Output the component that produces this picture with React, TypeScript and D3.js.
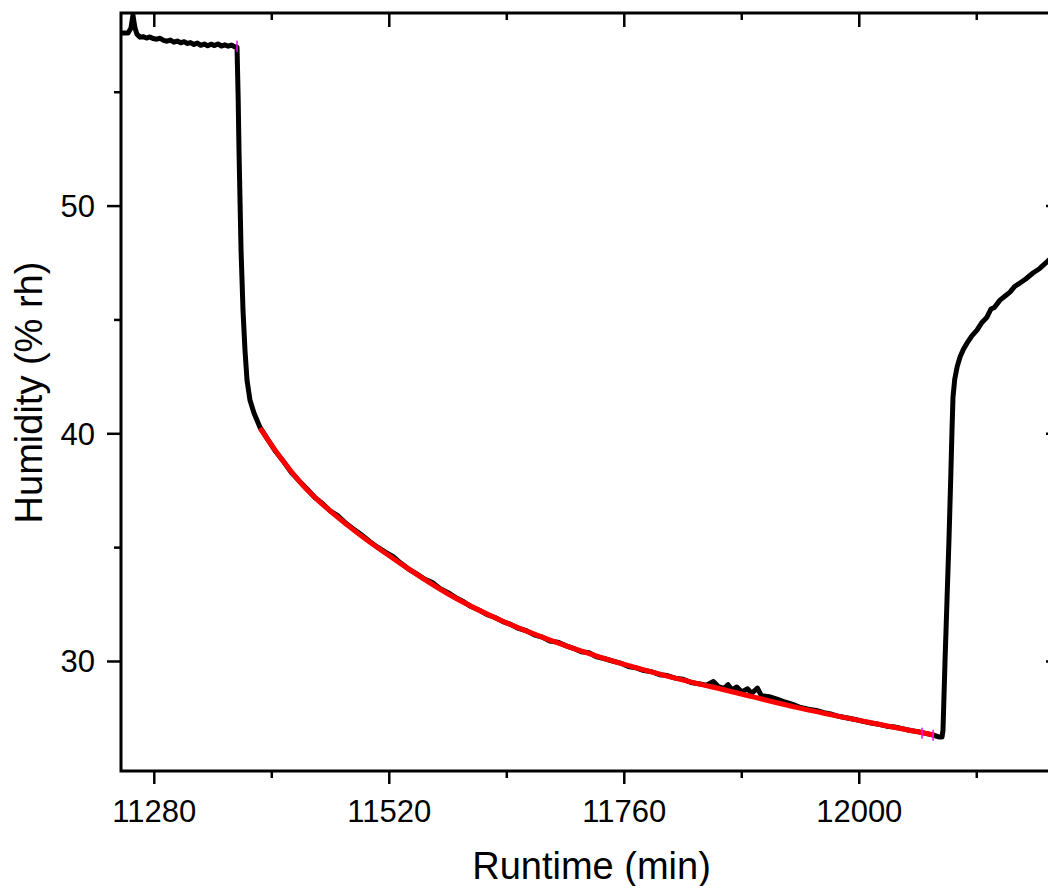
import React from "react";
import * as d3 from "d3";

// ---- data ----
const runtimeBlack: number[] = [
  11246.0, 11253.2, 11256.2, 11258.2, 11260.3, 11262.3, 11265.4, 11268.5, 11272.0, 11275.5,
  11278.7, 11282.5, 11286.0, 11289.5, 11293.0, 11296.5, 11300.0, 11303.5, 11307.0, 11310.5,
  11313.4, 11317.0, 11320.5, 11324.0, 11327.5, 11331.0, 11334.5, 11338.0, 11341.5, 11345.0,
  11348.5, 11352.0, 11355.5, 11359.0, 11362.0, 11364.5,
  11365.7, 11366.5, 11368.6, 11370.6, 11372.6, 11374.7, 11377.7, 11381.8,
  11388, 11396, 11404, 11412, 11420, 11428, 11436, 11444, 11452, 11460, 11468, 11476,
  11484, 11492, 11500, 11508, 11516, 11524, 11532, 11540, 11548, 11556, 11564, 11572,
  11580, 11588, 11596, 11604, 11612, 11620, 11628, 11636, 11644, 11652, 11660, 11668,
  11676, 11684, 11692, 11700, 11708, 11716, 11724, 11732, 11740, 11748, 11756, 11764,
  11772, 11780, 11788, 11796, 11804, 11812, 11820, 11828, 11836, 11844, 11851, 11856,
  11862, 11866, 11870, 11875, 11880, 11886, 11890, 11896, 11900, 11908, 11916, 11924,
  11932, 11940, 11948, 11956, 11964, 11972, 11980, 11988, 11996, 12004, 12012, 12020,
  12028, 12036, 12044, 12052, 12060, 12068, 12076, 12082, 12084.5,
  12085.5, 12087.6, 12089.6, 12091.6, 12093.5, 12094.7, 12095.7, 12097.5, 12100.0, 12103.0,
  12106.5, 12110.0, 12115.0, 12120.2, 12125.5, 12130.4, 12134.5, 12138.0, 12143.7, 12149.0,
  12153.9, 12159.0, 12164.1, 12170.0, 12177.4, 12184.0, 12191.7, 12198.0, 12205.0,
];
const humidityBlack: number[] = [
  57.60, 57.60, 57.82, 58.39, 57.82, 57.55, 57.42, 57.44, 57.38, 57.43,
  57.36, 57.33, 57.37, 57.28, 57.24, 57.29, 57.20, 57.25, 57.17, 57.22,
  57.14, 57.18, 57.10, 57.16, 57.06, 57.12, 57.04, 57.11, 57.05, 57.12,
  57.03, 57.08, 57.02, 57.07, 57.00, 56.98,
  54.66, 52.46, 48.07, 45.43, 43.68, 42.36, 41.48, 40.91,
  40.28, 39.74, 39.22, 38.78, 38.30, 37.93, 37.58, 37.20, 36.93, 36.60, 36.38, 36.06,
  35.80, 35.55, 35.27, 35.02, 34.80, 34.60, 34.31, 34.05, 33.85, 33.62, 33.47, 33.20,
  33.02, 32.80, 32.62, 32.40, 32.25, 32.06, 31.93, 31.75, 31.63, 31.45, 31.35, 31.17,
  31.07, 30.90, 30.85, 30.70, 30.58, 30.43, 30.38, 30.20, 30.12, 30.02, 29.93, 29.78,
  29.72, 29.60, 29.55, 29.42, 29.38, 29.27, 29.22, 29.08, 29.02, 28.96, 29.12, 28.90,
  28.82, 28.98, 28.75, 28.88, 28.66, 28.80, 28.60, 28.83, 28.50, 28.45, 28.35, 28.22,
  28.12, 27.98, 27.90, 27.85, 27.75, 27.68, 27.58, 27.52, 27.45, 27.37, 27.30, 27.24,
  27.16, 27.12, 27.05, 26.97, 26.92, 26.84, 26.76, 26.68, 26.68,
  26.98, 30.06, 32.70, 35.33, 38.20, 40.16, 41.60, 42.40, 42.95, 43.38,
  43.72, 43.98, 44.30, 44.55, 44.90, 45.12, 45.48, 45.55, 45.87, 46.05,
  46.22, 46.48, 46.62, 46.80, 47.06, 47.25, 47.55, 47.80, 47.98,
];

const runtimeFit: number[] = [
  11388.0, 11408.4, 11428.8, 11479.9, 11530.9, 11582.0, 11633.1, 11684.2,
  11735.2, 11803.7, 11871.1, 11939.5, 12007.9, 12076.4,
];
const humidityFit: number[] = [
  40.25, 38.98, 37.88, 35.90, 34.32, 32.92, 31.82, 30.94,
  30.19, 29.36, 28.66, 27.95, 27.34, 26.77,
];

const markerRuntime: number[] = [11364.5, 12064.1, 12075.4];
const markerHumidity: number[] = [57.0, 26.83, 26.74];

const xMajorTicks: number[] = [11280, 11520, 11760, 12000];
const xMinorTicks: number[] = [11400, 11640, 11880, 12120];
const yMajorTicks: number[] = [30, 40, 50];
const yMinorTicks: number[] = [35, 45, 55];

const xTitle = "Runtime (min)";
const yTitle = "Humidity (% rh)";

const W = 1048;
const H = 886;
const L = 121, R = 1060, T = 13, B = 771;
const FONT = "'Liberation Sans', Arial, Helvetica, sans-serif";

export default function App() {
  const x = d3.scaleLinear().domain([11246, 12205]).range([L, R]);
  const y = d3.scaleLinear().domain([25.19, 58.48]).range([B, T]);

  const black = runtimeBlack.map((t, i) => [t, humidityBlack[i]] as [number, number]);
  const fit = runtimeFit.map((t, i) => [t, humidityFit[i]] as [number, number]);

  const lineLin = d3.line<[number, number]>().x(d => x(d[0])).y(d => y(d[1]));
  const lineFit = d3
    .line<[number, number]>()
    .x(d => x(d[0]))
    .y(d => y(d[1]))
    .curve(d3.curveMonotoneX);

  const majorLen = 14;
  const minorLen = 7;

  return (
    <svg
      width={W}
      height={H}
      style={{ position: "absolute", left: 0, top: 0, background: "#fff" }}
    >
      <defs>
        <clipPath id="plot">
          <rect x={L} y={T} width={R - L} height={B - T} />
        </clipPath>
      </defs>
      <rect x={0} y={0} width={W} height={H} fill="#fff" />

      <g clipPath="url(#plot)">
        <path
          d={lineLin(black) || ""}
          fill="none"
          stroke="#000"
          strokeWidth={5}
          strokeLinejoin="round"
          strokeLinecap="round"
        />
        <path
          d={lineFit(fit) || ""}
          fill="none"
          stroke="#ff0000"
          strokeWidth={5}
          strokeLinejoin="round"
        />
        {markerRuntime.map((t, i) => (
          <line
            key={i}
            x1={x(t)}
            x2={x(t)}
            y1={y(markerHumidity[i]) - 6}
            y2={y(markerHumidity[i]) + 5}
            stroke="#ff00ff"
            strokeWidth={1.5}
          />
        ))}
      </g>

      {/* ticks */}
      <g stroke="#000" strokeWidth={2.5}>
        {xMajorTicks.map(t => (
          <g key={"xM" + t}>
            <line x1={x(t)} x2={x(t)} y1={B} y2={B + majorLen - 1} />
            <line x1={x(t)} x2={x(t)} y1={T} y2={T + majorLen} />
          </g>
        ))}
        {xMinorTicks.map(t => (
          <g key={"xm" + t}>
            <line x1={x(t)} x2={x(t)} y1={B} y2={B + minorLen} />
            <line x1={x(t)} x2={x(t)} y1={T} y2={T + minorLen} />
          </g>
        ))}
        {yMajorTicks.map(v => (
          <g key={"yM" + v}>
            <line x1={L - majorLen} x2={L} y1={y(v)} y2={y(v)} />
            <line x1={R - majorLen} x2={R} y1={y(v)} y2={y(v)} />
          </g>
        ))}
        {yMinorTicks.map(v => (
          <g key={"ym" + v}>
            <line x1={L - minorLen} x2={L} y1={y(v)} y2={y(v)} />
            <line x1={R - minorLen} x2={R} y1={y(v)} y2={y(v)} />
          </g>
        ))}
      </g>

      {/* frame */}
      <rect
        x={L}
        y={T}
        width={R - L}
        height={B - T}
        fill="none"
        stroke="#000"
        strokeWidth={3}
      />

      {/* tick labels */}
      <g fontFamily={FONT} fontSize={31} fill="#000">
        {xMajorTicks.map(t => (
          <text key={"xl" + t} x={x(t)} y={822} textAnchor="middle">
            {t}
          </text>
        ))}
        {yMajorTicks.map(v => (
          <text key={"yl" + v} x={95} y={y(v) + 11} textAnchor="end">
            {v}
          </text>
        ))}
      </g>

      {/* axis titles */}
      <text
        x={591.5}
        y={879}
        textAnchor="middle"
        fontFamily={FONT}
        fontSize={38}
        fill="#000"
      >
        {xTitle}
      </text>
      <text
        transform={`translate(42, 392.5) rotate(-90)`}
        textAnchor="middle"
        fontFamily={FONT}
        fontSize={38}
        fill="#000"
      >
        {yTitle}
      </text>
    </svg>
  );
}
